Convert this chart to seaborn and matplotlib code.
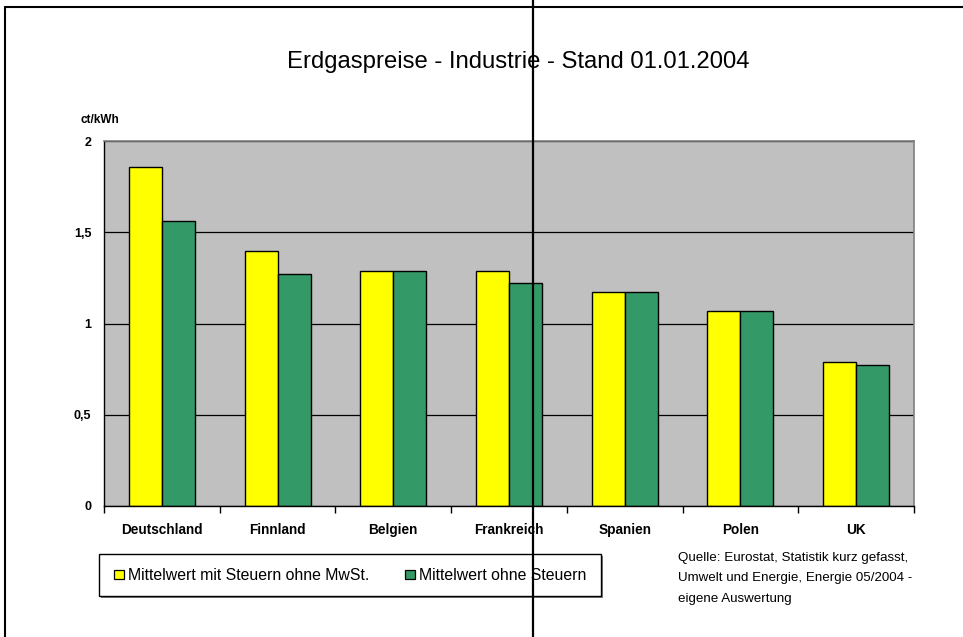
import matplotlib
matplotlib.use("Agg")
import matplotlib.pyplot as plt
from matplotlib.patches import Rectangle
from matplotlib.lines import Line2D
from matplotlib.ticker import FixedLocator
import pandas as pd
import seaborn as sns

# Data
laender = ["Deutschland", "Finnland", "Belgien", "Frankreich", "Spanien", "Polen", "UK"]
mit_steuern = [1.86, 1.40, 1.29, 1.29, 1.17, 1.07, 0.79]
ohne_steuern = [1.56, 1.27, 1.29, 1.22, 1.17, 1.07, 0.77]
reihen = ["Mittelwert mit Steuern ohne MwSt.", "Mittelwert ohne Steuern"]
y_ticks = [0, 0.5, 1, 1.5, 2]
y_labels = ["0", "0,5", "1", "1,5", "2"]

titel = "Erdgaspreise - Industrie - Stand 01.01.2004"
einheit = "ct/kWh"
quelle = ("Quelle: Eurostat, Statistik kurz gefasst,\n"
          "Umwelt und Energie, Energie 05/2004 -\n"
          "eigene Auswertung")

farben = {reihen[0]: "#FFFF00", reihen[1]: "#339966"}

df = pd.DataFrame({
    "Land": laender * 2,
    "Wert": mit_steuern + ohne_steuern,
    "Reihe": [reihen[0]] * len(laender) + [reihen[1]] * len(laender),
})

sns.set_theme(style="white")
plt.rcParams["font.family"] = ["Liberation Sans", "DejaVu Sans"]
plt.rcParams["text.color"] = "black"
plt.rcParams["xtick.color"] = "black"
plt.rcParams["ytick.color"] = "black"

W, H = 963, 637
fig = plt.figure(figsize=(W / 100, H / 100), dpi=100)

def fx(px):
    return px / W

def fy(py):
    return 1 - py / H

# Plot area
ax = fig.add_axes([fx(104), fy(506), fx(914) - fx(104), fy(141) - fy(506)])
ax.set_facecolor("#C0C0C0")
ax.set_axisbelow(True)

sns.barplot(data=df, x="Land", y="Wert", hue="Reihe", palette=farben,
            width=0.57, edgecolor="black", linewidth=1.0, saturation=1,
            legend=False, ax=ax)

ax.set_xlim(-0.5, len(laender) - 0.5)
ax.set_ylim(0, 2)
ax.set_yticks(y_ticks)
ax.set_yticklabels(y_labels, fontsize=9, fontweight="bold", color="black")
ax.yaxis.grid(True, color="black", linewidth=0.9)
ax.xaxis.grid(False)

ax.set_xticks(range(len(laender)))
ax.set_xticklabels(laender, fontsize=9.8, fontweight="bold", color="black")
ax.tick_params(axis="x", which="major", length=0, pad=12)
ax.xaxis.set_minor_locator(FixedLocator([i - 0.5 for i in range(len(laender) + 1)]))
ax.tick_params(axis="x", which="minor", length=5, width=1, color="black", direction="out")
ax.tick_params(axis="y", length=5, width=1, color="black", direction="out", pad=4)
ax.xaxis.set_tick_params(which="minor", bottom=True)
ax.set_xlabel("")
ax.set_ylabel("")

for side in ["top", "right"]:
    ax.spines[side].set_color("#808080")
    ax.spines[side].set_linewidth(1.2)
for side in ["left", "bottom"]:
    ax.spines[side].set_color("black")
    ax.spines[side].set_linewidth(1.0)

# Texts
fig.text(fx(518), fy(62), titel, ha="center", va="center", fontsize=17.2, color="black")
fig.text(fx(80), fy(120), einheit, ha="left", va="center", fontsize=8.5,
         fontweight="bold", color="black")
fig.text(fx(678), fy(578.5), quelle, ha="left", va="center", fontsize=9.6,
         linespacing=1.95, color="black")

# Legend box with shadow
fig.patches.append(Rectangle((fx(101), fy(598)), fx(601) - fx(99), fy(554) - fy(596),
                             transform=fig.transFigure, facecolor="#808080",
                             edgecolor="none", zorder=1))
fig.patches.append(Rectangle((fx(99), fy(596)), fx(601) - fx(99), fy(554) - fy(596),
                             transform=fig.transFigure, facecolor="white",
                             edgecolor="black", linewidth=1.0, zorder=2))
for x0, reihe in [(114, reihen[0]), (405, reihen[1])]:
    fig.patches.append(Rectangle((fx(x0), fy(579)), fx(10), fy(570) - fy(579),
                                 transform=fig.transFigure, facecolor=farben[reihe],
                                 edgecolor="black", linewidth=0.9, zorder=3))
    fig.text(fx(x0 + 14), fy(575), reihe, ha="left", va="center", fontsize=11.4,
             color="black", zorder=4)

# Page frame and separator lines
fig.add_artist(Line2D([fx(5), fx(5)], [fy(7), 0], transform=fig.transFigure,
                      color="black", linewidth=1.5))
fig.add_artist(Line2D([fx(5), 1], [fy(7), fy(7)], transform=fig.transFigure,
                      color="black", linewidth=1.5))
fig.add_artist(Line2D([fx(533), fx(533)], [0, 1], transform=fig.transFigure,
                      color="black", linewidth=1.6, zorder=10))

fig.savefig("out.png", dpi=100, facecolor="white")
